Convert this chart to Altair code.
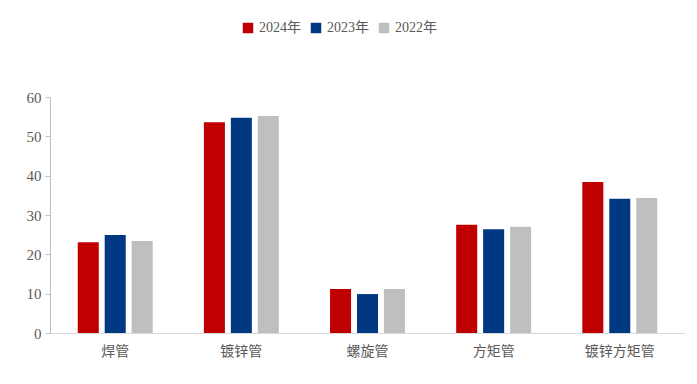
import altair as alt
import pandas as pd

categories = ["焊管", "镀锌管", "螺旋管", "方矩管", "镀锌方矩管"]
years = ["2024年", "2023年", "2022年"]
v2024 = [23.1, 53.6, 11.2, 27.5, 38.4]
v2023 = [24.9, 54.7, 9.9, 26.4, 34.1]
v2022 = [23.4, 55.2, 11.2, 27.0, 34.3]
colors = ["#C00000", "#003882", "#BFBFBF"]

rows = []
for y, vals in zip(years, [v2024, v2023, v2022]):
    for c, v in zip(categories, vals):
        rows.append({"cat": c, "year": y, "value": v})
df = pd.DataFrame(rows)

font = "Liberation Serif, Noto Sans CJK SC"

chart = alt.Chart(df).mark_bar().encode(
    x=alt.X("cat:N", sort=categories, title=None,
            scale=alt.Scale(paddingInner=0.406, paddingOuter=0.22),
            axis=alt.Axis(labelAngle=0, ticks=False, domainColor="#D9D9D9",
                          labelFont=font, labelFontSize=14, labelColor="#595959",
                          labelPadding=11)),
    xOffset=alt.XOffset("year:N", sort=years,
                        scale=alt.Scale(paddingInner=0.22, paddingOuter=0)),
    y=alt.Y("value:Q", title=None,
            scale=alt.Scale(domain=[0, 60]),
            axis=alt.Axis(values=[0, 10, 20, 30, 40, 50, 60], grid=False,
                          domainColor="#BFBFBF", tickColor="#BFBFBF", tickSize=5,
                          labelFont=font, labelFontSize=15, labelColor="#595959",
                          labelPadding=4)),
    color=alt.Color("year:N", sort=years,
                    scale=alt.Scale(domain=years, range=colors),
                    legend=alt.Legend(title=None, orient="none", direction="horizontal",
                                      legendX=191, legendY=-76,
                                      symbolType="square", symbolSize=110,
                                      symbolStrokeWidth=0,
                                      labelFont=font, labelFontSize=14,
                                      labelColor="#595959", columnPadding=8,
                                      labelOffset=4)),
).properties(
    width=635, height=236,
    autosize=alt.AutoSizeParams(type="none"),
    padding={"left": 42, "top": 89, "right": 4, "bottom": 40},
).configure_view(stroke=None)

chart.save("out.html", embed_options={"renderer": "svg", "actions": False})
